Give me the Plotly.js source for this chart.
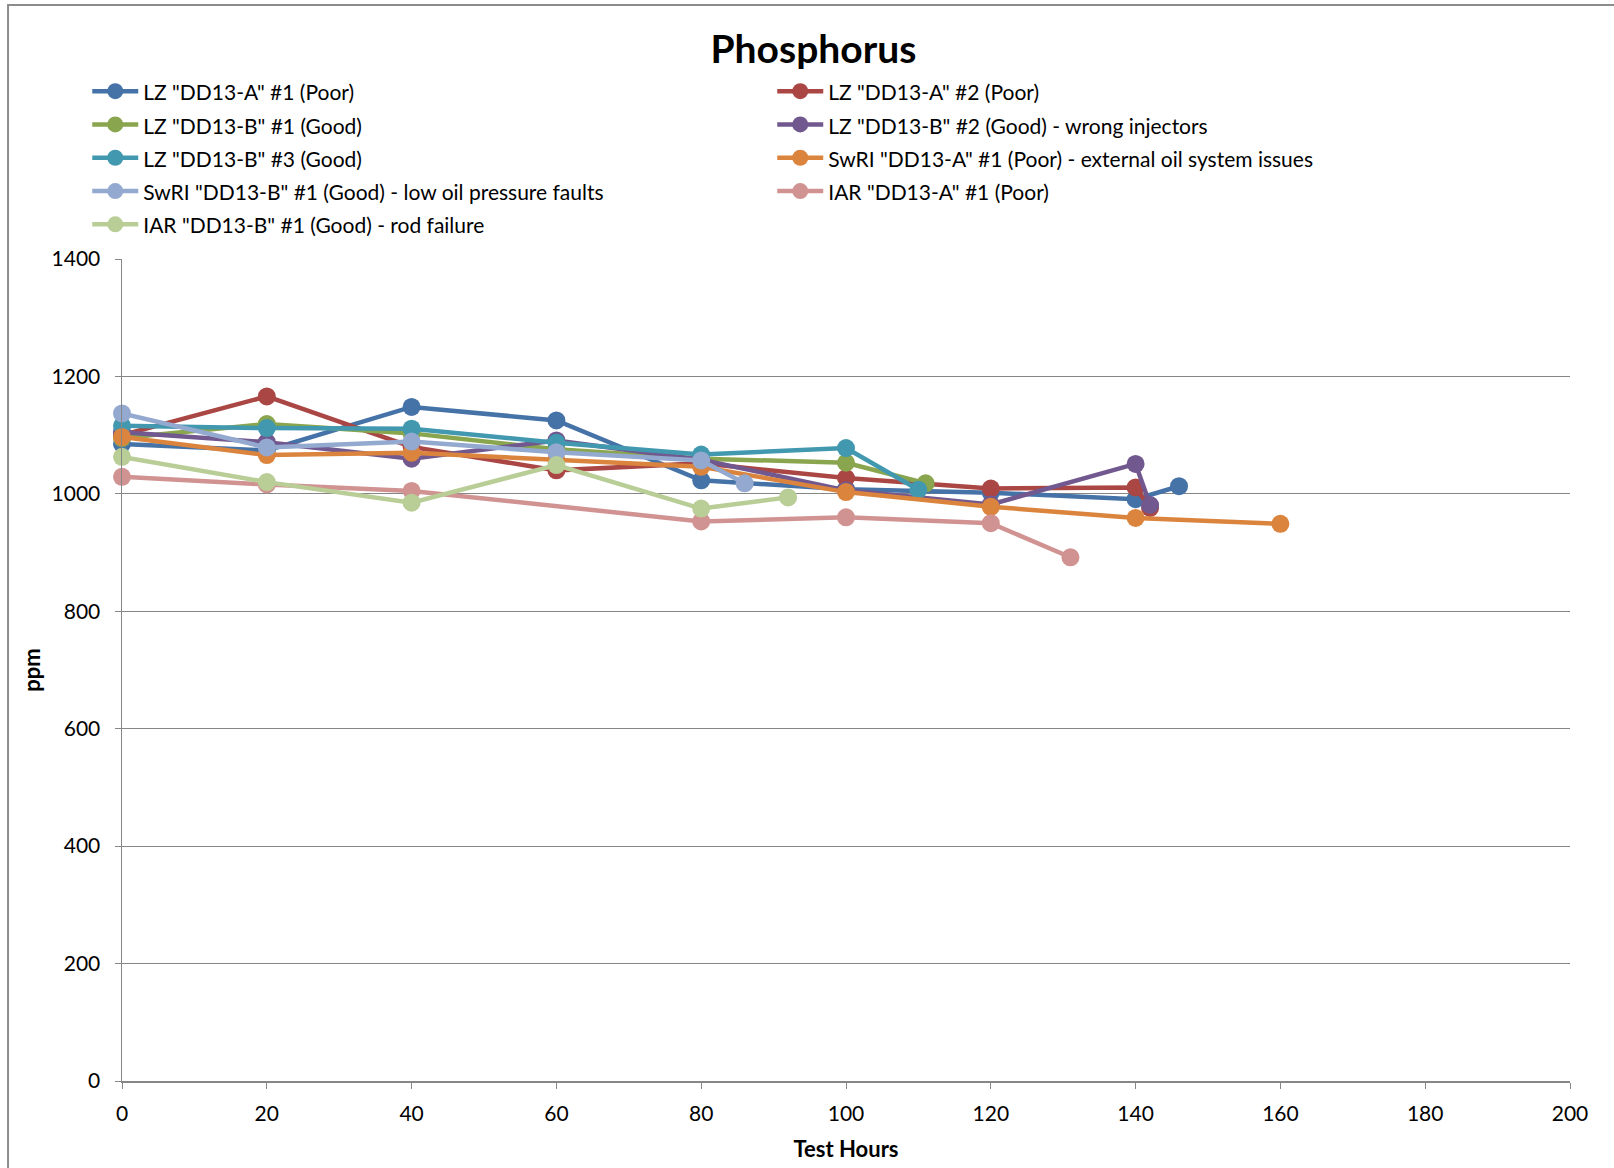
<!DOCTYPE html>
<html>
<head>
<meta charset="utf-8">
<script src="https://cdn.plot.ly/plotly-3.0.1.min.js"></script>
<style>
  html, body { margin: 0; padding: 0; background: #ffffff; }
  #chart { width: 1614px; height: 1168px; }
</style>
</head>
<body>
<div id="chart"></div>
<script>
// Phosphorus (ppm) versus test hours for each engine test
const seriesNames = [
  'LZ "DD13-A" #1 (Poor)',
  'LZ "DD13-A" #2 (Poor)',
  'LZ "DD13-B" #1 (Good)',
  'LZ "DD13-B" #2 (Good) - wrong injectors',
  'LZ "DD13-B" #3 (Good)',
  'SwRI "DD13-A" #1 (Poor) - external oil system issues',
  'SwRI "DD13-B" #1 (Good) - low oil pressure faults',
  'IAR "DD13-A" #1 (Poor)',
  'IAR "DD13-B" #1 (Good) - rod failure'
];

const lzA1Hours = [0, 20, 40, 60, 80, 100, 120, 140, 146];
const lzA1Ppm   = [1085, 1074, 1148, 1125, 1023, 1008, 1002, 991, 1013];

const lzA2Hours = [0, 20, 40, 60, 80, 100, 120, 140, 142];
const lzA2Ppm   = [1100, 1166, 1080, 1040, 1052, 1027, 1009, 1011, 976];

const lzB1Hours = [0, 20, 40, 60, 80, 100, 111];
const lzB1Ppm   = [1095, 1119, 1103, 1076, 1060, 1053, 1018];

const lzB2Hours = [0, 20, 40, 60, 80, 100, 120, 140, 142];
const lzB2Ppm   = [1105, 1088, 1060, 1091, 1058, 1006, 982, 1051, 981];

const lzB3Hours = [0, 20, 40, 60, 80, 100, 110];
const lzB3Ppm   = [1116, 1112, 1111, 1087, 1067, 1078, 1007];

const swriA1Hours = [0, 20, 40, 60, 80, 100, 120, 140, 160];
const swriA1Ppm   = [1097, 1066, 1070, 1058, 1046, 1003, 978, 959, 949];

const swriB1Hours = [0, 20, 40, 60, 80, 86];
const swriB1Ppm   = [1137, 1079, 1089, 1071, 1057, 1018];

const iarA1Hours = [0, 20, 40, 80, 100, 120, 131];
const iarA1Ppm   = [1029, 1016, 1005, 953, 960, 950, 892];

const iarB1Hours = [0, 20, 40, 60, 80, 92];
const iarB1Ppm   = [1063, 1020, 985, 1049, 975, 994];

const xTicks = [0, 20, 40, 60, 80, 100, 120, 140, 160, 180, 200];
const yTicks = [0, 200, 400, 600, 800, 1000, 1200, 1400];

const hoursList = [lzA1Hours, lzA2Hours, lzB1Hours, lzB2Hours, lzB3Hours, swriA1Hours, swriB1Hours, iarA1Hours, iarB1Hours];
const ppmList   = [lzA1Ppm, lzA2Ppm, lzB1Ppm, lzB2Ppm, lzB3Ppm, swriA1Ppm, swriB1Ppm, iarA1Ppm, iarB1Ppm];
const colors = ['#4572A7', '#AA4643', '#89A54E', '#71588F', '#4198AF', '#DB843D', '#93A9CF', '#D19392', '#B9CD96'];

// legend rows are spaced by the legend font size; the visible label text is set a little smaller
const legendLabel = name => '<span style="font-size:21px">' + name + '</span>';

const traces = seriesNames.map((name, i) => ({
  type: 'scatter',
  mode: 'lines+markers',
  name: legendLabel(name),
  x: hoursList[i],
  y: ppmList[i],
  line: { color: colors[i], width: 4.5 },
  marker: { color: colors[i], size: 18 },
  cliponaxis: false
}));

const FONT = 'Lato, "Open Sans", sans-serif';

const layout = {
  width: 1614,
  height: 1168,
  paper_bgcolor: '#ffffff',
  plot_bgcolor: '#ffffff',
  margin: { l: 122, r: 44, t: 259, b: 87, pad: 0 },
  font: { family: FONT, color: '#000000', size: 21 },
  title: {
    text: '<b>Phosphorus</b>',
    font: { family: FONT, size: 39, color: '#000000' },
    x: 0.504, xanchor: 'center',
    y: 0.958, yanchor: 'middle'
  },
  showlegend: true,
  legend: {
    orientation: 'h',
    x: -0.024, xanchor: 'left',
    y: 1.2305, yanchor: 'top',
    entrywidth: 624,
    entrywidthmode: 'pixels',
    itemwidth: 46,
    traceorder: 'normal',
    font: { family: FONT, size: 23.3, color: '#000000' },
    bgcolor: 'rgba(0,0,0,0)'
  },
  xaxis: {
    range: [0, 200],
    tickvals: xTicks,
    ticktext: xTicks.map(String),
    showgrid: false,
    zeroline: false,
    showline: true,
    linecolor: '#868686',
    linewidth: 1.5,
    ticks: 'outside',
    ticklen: 6,
    tickcolor: '#868686',
    ticklabelstandoff: 7,
    tickfont: { family: FONT, size: 21, color: '#000000' },
    title: { text: '<b>Test Hours</b>', font: { family: FONT, size: 22, color: '#000000' }, standoff: 18 }
  },
  yaxis: {
    range: [0, 1400],
    tickvals: yTicks,
    ticktext: yTicks.map(String),
    showgrid: true,
    gridcolor: '#868686',
    gridwidth: 1,
    zeroline: false,
    showline: true,
    linecolor: '#868686',
    linewidth: 1.5,
    ticks: 'outside',
    ticklen: 6,
    tickcolor: '#868686',
    ticklabelstandoff: 10,
    tickfont: { family: FONT, size: 21, color: '#000000' },
    title: { text: '<b>ppm</b>', font: { family: FONT, size: 22, color: '#000000' }, standoff: 5 }
  },
  shapes: [
    {
      type: 'rect', xref: 'paper', yref: 'paper',
      x0: -0.0787, x1: 1.06, y0: -0.12, y1: 1.309,
      line: { color: '#8c8c8c', width: 2 }, fillcolor: 'rgba(0,0,0,0)', layer: 'below'
    }
  ]
};

Plotly.newPlot('chart', traces, layout, { displayModeBar: false, staticPlot: true });
</script>
</body>
</html>
